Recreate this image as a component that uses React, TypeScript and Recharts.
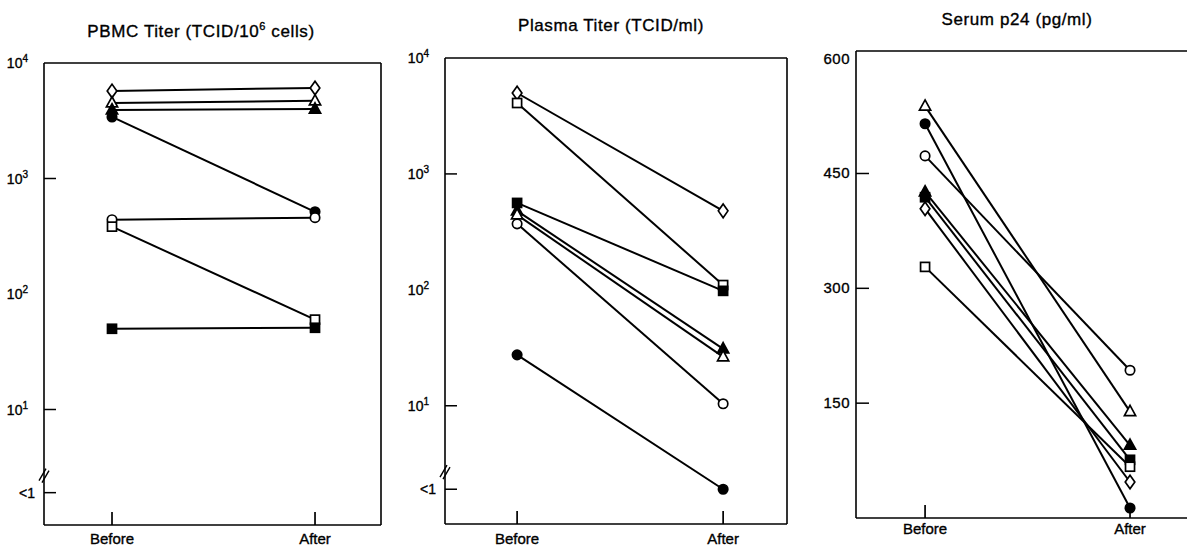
import React from 'react';
import { LineChart, Line, XAxis, YAxis, ReferenceLine } from 'recharts';

const FONT = '"Liberation Sans", Arial, Helvetica, sans-serif';

const categories = ['Before', 'After'];

// position of the "<1" tick on the log panels (in log10 units)
const BREAK = 0.28;

// PBMC titer (TCID/10^6 cells)
const pbmcMarkers = ['diamondOpen', 'triangleOpen', 'triangleFilled', 'circleFilled', 'circleOpen', 'squareOpen', 'squareFilled'];
const pbmcBefore = [5730, 4510, 3920, 3410, 440, 383, 50];
const pbmcAfter = [6080, 4700, 3990, 515, 458, 60, 51];

// Plasma titer (TCID/ml), 1 means "<1"
const plasmaMarkers = ['diamondOpen', 'squareOpen', 'squareFilled', 'triangleFilled', 'triangleOpen', 'circleOpen', 'circleFilled'];
const plasmaBefore = [4990, 4090, 562, 480, 443, 371, 27.5];
const plasmaAfter = [480, 110, 98, 31, 26.4, 10.4, 1];

// Serum p24 (pg/ml)
const p24Markers = ['triangleOpen', 'circleFilled', 'circleOpen', 'triangleFilled', 'squareFilled', 'diamondOpen', 'squareOpen'];
const p24Before = [538, 515, 473, 426, 419, 404, 328];
const p24After = [139, 13, 193, 95, 76, 47, 67];

const logTicks = [BREAK, 1, 2, 3, 4];
const p24Ticks = [150, 300, 450, 600];

const toLog = (v: number) => (v <= 1 ? BREAK : Math.log10(v));
const linear = (v: number) => v;

// text looks heavier in the scan, thicken it a bit
const ink = { fill: '#000', stroke: '#000', strokeWidth: 0.35 };
const TICK_COLOR = '#000';

const Y_AXIS_W = 40;
const X_AXIS_H = 20;
const H = 546;

const Marker = ({ cx, cy, kind }: any) => {
  if (cx == null || cy == null) return null;
  const fill = kind.endsWith('Filled') ? '#000' : '#fff';
  const s = { stroke: '#000', strokeWidth: 1.7, fill };
  if (kind.startsWith('circle')) return <circle cx={cx} cy={cy} r={4.7} {...s} />;
  if (kind.startsWith('square')) return <rect x={cx - 4.5} y={cy - 4.5} width={9} height={9} {...s} />;
  if (kind.startsWith('triangle'))
    return <polygon points={`${cx},${cy - 6.2} ${cx + 5.6},${cy + 4} ${cx - 5.6},${cy + 4}`} {...s} />;
  return <polygon points={`${cx},${cy - 6.8} ${cx + 4.8},${cy} ${cx},${cy + 6.8} ${cx - 4.8},${cy}`} {...s} />;
};

const XTick = ({ x, y, payload, dy }: any) => (
  <g>
    <path d={`M${x},${y} v-13`} stroke={TICK_COLOR} strokeWidth={1.7} fill="none" />
    <text x={x} y={y + dy} textAnchor="middle" fontSize={15} fontFamily={FONT} {...ink}>
      {categories[payload.value]}
    </text>
  </g>
);

const LogTick = ({ x, y, payload }: any) => {
  const v = payload.value;
  if (v === BREAK) {
    return (
      <g>
        <path d={`M${x},${y} h12`} stroke={TICK_COLOR} strokeWidth={1.5} fill="none" />
        <path d={`M${x - 5},${y - 12} L${x + 2},${y - 24} M${x - 2},${y - 10} L${x + 5},${y - 22}`} stroke="#000" strokeWidth={1.4} fill="none" />
        <text x={x - 9} y={y + 5} textAnchor="end" fontSize={14} fontFamily={FONT} {...ink}>
          {'<1'}
        </text>
      </g>
    );
  }
  return (
    <g>
      {(v === 1 || v === 3) && <path d={`M${x},${y} h12`} stroke={TICK_COLOR} strokeWidth={1.5} fill="none" />}
      <text x={x - 16} y={y + 5} textAnchor="end" fontSize={14} fontFamily={FONT} {...ink}>
        10
        <tspan fontSize={10} dy={-6}>{v}</tspan>
      </text>
    </g>
  );
};

const LinTick = ({ x, y, payload }: any) => (
  <g>
    {payload.value !== 600 && <path d={`M${x},${y} h13`} stroke={TICK_COLOR} strokeWidth={1.5} fill="none" />}
    <text x={x - 6} y={y + 5} textAnchor="end" fontSize={15} fontFamily={FONT} {...ink} letterSpacing={0.5}>
      {payload.value}
    </text>
  </g>
);

const buildRows = (before: number[], after: number[], tf: (v: number) => number) =>
  [before, after].map((vals, i) => {
    const row: any = { x: i };
    vals.forEach((v, j) => (row[`s${j}`] = tf(v)));
    return row;
  });

const Panel = ({ cfg, markers, before, after, tf, ticks, tick }: any) => {
  const rows = buildRows(before, after, tf);
  const [x0, x1] = cfg.xDomain;
  const [y0, y1] = cfg.yDomain;
  const edge = { stroke: '#000', strokeWidth: 1.6, ifOverflow: 'visible' as const };
  return (
    <div style={{ position: 'absolute', left: cfg.left, top: 0 }}>
      <LineChart width={cfg.width} height={H} data={rows} margin={cfg.margin}>
        <XAxis
          dataKey="x"
          type="number"
          domain={cfg.xDomain}
          ticks={[0, 1]}
          interval={0}
          height={X_AXIS_H}
          tickSize={0}
          tickMargin={0}
          tickLine={false}
          axisLine={false}
          tick={<XTick dy={cfg.labelDy} />}
        />
        <YAxis
          type="number"
          domain={cfg.yDomain}
          ticks={ticks}
          interval={0}
          width={Y_AXIS_W}
          tickSize={0}
          tickMargin={0}
          tickLine={false}
          axisLine={false}
          tick={tick}
        />
        <ReferenceLine x={x0} {...edge} />
        <ReferenceLine x={x1} {...edge} />
        <ReferenceLine y={y0} {...edge} />
        <ReferenceLine y={y1} {...edge} />
        {markers.map((m: string, j: number) => (
          <Line
            key={`s${j}`}
            dataKey={`s${j}`}
            stroke="#000"
            strokeWidth={2}
            isAnimationActive={false}
            dot={(p: any) => <Marker key={`s${j}-${p.index}`} cx={p.cx} cy={p.cy} kind={m} />}
            activeDot={false}
          />
        ))}
      </LineChart>
    </div>
  );
};

const pbmcCfg = {
  left: 0, width: 400,
  margin: { top: 63, right: 19, bottom: 1, left: 4 },
  xDomain: [-0.335, 1.325], yDomain: [0, 4], labelDy: 19,
};
const plasmaCfg = {
  left: 400, width: 400,
  margin: { top: 58, right: 13, bottom: 2, left: 5 },
  xDomain: [-0.35, 1.31], yDomain: [-0.02, 4], labelDy: 20,
};
const p24Cfg = {
  left: 800, width: 400,
  margin: { top: 51, right: 5, bottom: 8, left: 16 },
  xDomain: [-0.337, 1.317], yDomain: [0, 610], labelDy: 16,
};

export default function App() {
  return (
    <div style={{ position: 'absolute', left: 0, top: 0, width: 1187, height: 546, overflow: 'hidden', background: '#fff' }}>
      <Panel cfg={pbmcCfg} markers={pbmcMarkers} before={pbmcBefore} after={pbmcAfter} tf={toLog} ticks={logTicks} tick={<LogTick />} />
      <Panel cfg={plasmaCfg} markers={plasmaMarkers} before={plasmaBefore} after={plasmaAfter} tf={toLog} ticks={logTicks} tick={<LogTick />} />
      <Panel cfg={p24Cfg} markers={p24Markers} before={p24Before} after={p24After} tf={linear} ticks={p24Ticks} tick={<LinTick />} />
      <svg width={1187} height={546} style={{ position: 'absolute', left: 0, top: 0, pointerEvents: 'none' }}>
        <g fontFamily={FONT} fontSize={17} letterSpacing={0.6} {...ink}>
          <text x={201} y={37} textAnchor="middle">
            PBMC Titer (TCID/10<tspan fontSize={11} dy={-7}>6</tspan>
            <tspan dy={7}> cells)</tspan>
          </text>
          <text x={611} y={31} textAnchor="middle">Plasma Titer (TCID/ml)</text>
          <text x={1017} y={25} textAnchor="middle">Serum p24 (pg/ml)</text>
        </g>
      </svg>
    </div>
  );
}
